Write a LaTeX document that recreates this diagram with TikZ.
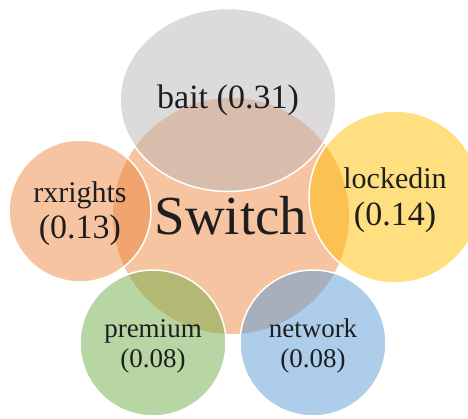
\documentclass[tikz,border=0pt]{standalone}
\usepackage{fontspec}
\setmainfont{Liberation Serif}
\usetikzlibrary{shapes.geometric}
\definecolor{switchorange}{HTML}{ED7D31}
\definecolor{baitgray}{HTML}{B9B6B7}
\definecolor{lockedyellow}{HTML}{FFC000}
\definecolor{premiumgreen}{HTML}{70AD47}
\definecolor{networkblue}{HTML}{5B9BD5}
\definecolor{labelink}{HTML}{1E1E1E}
\tikzset{
  bubble/.style={circle,inner sep=0pt,fill opacity=0.5,text opacity=1,text=labelink,align=center},
  ring/.style={draw=white,line width=1.5pt},
}

\begin{document}
\begin{tikzpicture}[x=1pt,y=-1pt]
  \useasboundingbox (0,0) rectangle (468,418);

  % centre
  \node[bubble,fill=switchorange,fill opacity=0.45,minimum size=236pt,font=\fontsize{55}{60}\selectfont] (switch) at (231,216) {Switch};

  % the five around it
  \node[bubble,ring,ellipse,fill=baitgray,minimum width=216pt,minimum height=183pt,font=\fontsize{34}{40}\selectfont] (bait) at (228,100) {bait (0.31)};
  \node[bubble,ring,fill=switchorange,fill opacity=0.45,minimum size=142pt,font=\fontsize{30}{36}\selectfont] (rxrights) at (80,211) {\rule{0pt}{27pt}rxrights\\{\fontsize{34}{36}\selectfont (0.13)}};
  \node[bubble,ring,fill=lockedyellow,minimum size=172pt,font=\fontsize{30}{37}\selectfont] (lockedin) at (395,197) {\rule{0pt}{27pt}lockedin\\{\fontsize{34}{37}\selectfont (0.14)}};
  \node[bubble,ring,fill=premiumgreen,minimum size=146pt,font=\fontsize{27}{30}\selectfont] (premium) at (153,343) {\rule{0pt}{25pt}premium\\(0.08)};
  \node[bubble,ring,fill=networkblue,minimum size=146pt,font=\fontsize{27}{30}\selectfont] (network) at (313,343) {\rule{0pt}{25pt}network\\(0.08)};
\end{tikzpicture}
\end{document}
